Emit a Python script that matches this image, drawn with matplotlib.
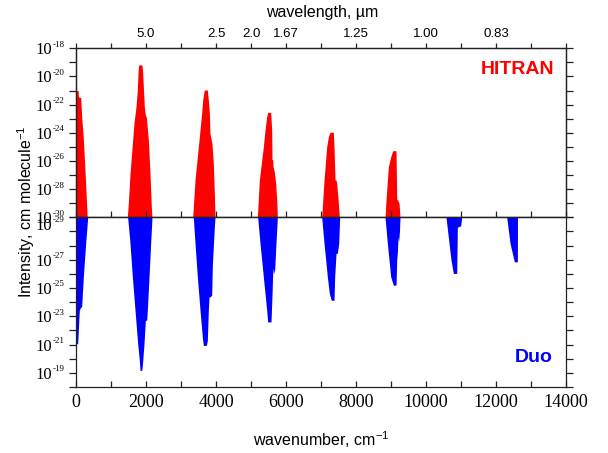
import matplotlib
matplotlib.use("Agg")
import matplotlib.pyplot as plt
import numpy as np

plt.rcParams['font.family'] = ['Liberation Sans', 'DejaVu Sans']
plt.rcParams['mathtext.fontset'] = 'custom'
plt.rcParams['mathtext.rm'] = 'Liberation Sans'
plt.rcParams['mathtext.sf'] = 'Liberation Sans'

# band envelopes: wavenumber (cm-1) and log10 intensity
# HITRAN (upper panel)
hit_wn_0 = [0, 60, 70, 135, 162, 209, 257, 305, 320]
hit_lg_0 = [-21.0, -21.0, -21.45, -21.5, -22.85, -24.4, -26.7, -29.2, -30]
hit_wn_1 = [1467, 1505, 1543, 1619, 1657, 1714, 1752, 1771, 1790, 1886, 1905, 1952, 1971, 1990, 2010, 2067, 2114, 2152, 2171]
hit_lg_1 = [-30, -28.6, -26.9, -24.5, -23.3, -22.15, -20.96, -19.78, -19.18, -19.18, -19.78, -22.15, -22.57, -22.8, -22.9, -24.5, -26.9, -29.25, -30]
hit_wn_2 = [3333, 3400, 3495, 3543, 3590, 3619, 3657, 3667, 3752, 3781, 3810, 3826, 3848, 3886, 3924, 3955, 3971]
hit_lg_2 = [-30, -27.35, -24.99, -23.8, -22.6, -21.67, -21.08, -20.96, -20.96, -21.67, -22.6, -24.0, -24.3, -24.8, -26.2, -28.5, -30]
hit_wn_3 = [5181, 5238, 5352, 5400, 5448, 5476, 5562, 5590, 5600, 5619, 5629, 5667, 5705, 5740, 5752]
hit_lg_3 = [-30, -27.35, -24.99, -23.8, -22.85, -22.55, -22.55, -23.8, -25.9, -25.9, -26.4, -26.8, -27.6, -29.0, -30]
hit_wn_4 = [7019, 7086, 7124, 7162, 7210, 7257, 7352, 7371, 7400, 7429, 7448, 7490, 7524]
hit_lg_4 = [-30, -27.35, -26.17, -24.99, -24.27, -23.96, -23.96, -24.99, -27.35, -27.35, -27.6, -28.8, -30]
hit_wn_5 = [8829, 8857, 8924, 8991, 9048, 9143, 9162, 9181, 9229, 9257]
hit_lg_5 = [-30, -28.77, -26.4, -25.7, -25.27, -25.27, -28.77, -28.7, -29.0, -30]

# Duo (lower panel)
duo_wn_0 = [0, 48, 95, 124, 162, 209, 276, 334]
duo_lg_0 = [-21.06, -21.06, -23.43, -23.6, -23.7, -25.79, -28.16, -30]
duo_wn_1 = [1476, 1543, 1610, 1686, 1762, 1810, 1829, 1876, 1895, 1943, 1981, 2019, 2038, 2086, 2133, 2171]
duo_lg_1 = [-30, -28.16, -25.79, -23.43, -21.06, -19.88, -19.17, -19.17, -19.5, -21.06, -22.72, -22.72, -23.43, -25.79, -28.16, -30]
duo_wn_2 = [3352, 3400, 3467, 3543, 3610, 3638, 3724, 3752, 3781, 3800, 3829, 3876, 3895, 3952, 3971]
duo_lg_2 = [-30, -28.16, -25.79, -23.43, -21.53, -20.94, -20.94, -21.3, -23.43, -24.37, -24.37, -24.5, -26.6, -29.3, -30]
duo_wn_3 = [5190, 5257, 5352, 5448, 5476, 5571, 5600, 5619, 5638, 5657, 5676, 5714, 5752]
duo_lg_3 = [-30, -28.16, -25.79, -23.43, -22.6, -22.6, -24.5, -26.0, -26.4, -26.0, -26.3, -28.2, -30]
duo_wn_4 = [7019, 7086, 7181, 7238, 7295, 7371, 7390, 7429, 7467, 7505, 7533]
duo_lg_4 = [-30, -28.16, -25.79, -24.61, -24.13, -24.13, -25.79, -27.45, -27.45, -28.16, -30]
duo_wn_5 = [8829, 8895, 8991, 9067, 9143, 9162, 9181, 9200, 9219, 9240, 9257]
duo_lg_5 = [-30, -28.16, -25.79, -25.2, -25.2, -26.97, -27.5, -28.6, -28.3, -29.0, -30]
duo_wn_6 = [10571, 10657, 10714, 10781, 10876, 10895, 10990, 11019]
duo_lg_6 = [-30, -28.16, -26.97, -26.03, -26.03, -29.3, -29.4, -30]
duo_wn_7 = [12305, 12400, 12467, 12524, 12610, 12612]
duo_lg_7 = [-30, -28.16, -27.45, -26.85, -26.85, -30]

hitran_bands = [(hit_wn_0, hit_lg_0), (hit_wn_1, hit_lg_1), (hit_wn_2, hit_lg_2),
                (hit_wn_3, hit_lg_3), (hit_wn_4, hit_lg_4), (hit_wn_5, hit_lg_5)]
duo_bands = [(duo_wn_0, duo_lg_0), (duo_wn_1, duo_lg_1), (duo_wn_2, duo_lg_2), (duo_wn_3, duo_lg_3),
             (duo_wn_4, duo_lg_4), (duo_wn_5, duo_lg_5), (duo_wn_6, duo_lg_6), (duo_wn_7, duo_lg_7)]

decades = list(range(-30, -17))
top_labels = [-30, -28, -26, -24, -22, -20, -18]
bottom_labels = [-29, -27, -25, -23, -21, -19]
wl_tick_pos = [2000, 4000, 5000, 6000, 8000, 10000, 12000]
wl_tick_lab = ['5.0', '2.5', '2.0', '1.67', '1.25', '1.00', '0.83']

fig = plt.figure(figsize=(6.08, 4.53), dpi=100)
ax1 = fig.add_axes([0.125, 0.5203, 0.806, 0.3731])
ax2 = fig.add_axes([0.125, 0.1457, 0.806, 0.3746])

for wn, lg in hitran_bands:
    ax1.fill_between(wn, 10.0 ** np.array(lg), 1e-30, color='#ff0000', linewidth=0)
for wn, lg in duo_bands:
    ax2.fill_between(wn, 10.0 ** np.array(lg), 1e-30, color='#0000ff', linewidth=0)

for ax in (ax1, ax2):
    ax.set_yscale('log')
    ax.set_xlim(0, 14000)
    ax.set_yticks([10.0 ** k for k in decades])
    ax.minorticks_off()
    ax.set_xticks(range(0, 14001, 2000))
    ax.set_xticks(range(1000, 14000, 2000), minor=True)
    ax.tick_params(axis='y', which='both', direction='out', length=5, width=0.9,
                   left=True, right=True, labelleft=False, color='#222222')
    ax.tick_params(axis='x', which='both', direction='in', length=4, width=0.9,
                   top=False, bottom=True, color='#222222')
    for s in ax.spines.values():
        s.set_linewidth(0.9)
        s.set_color('#222222')

ax1.set_ylim(1e-30, 1e-18)
ax2.set_ylim(1e-18, 1e-30)


def decade_label(ax, k, lift=0.0):
    # "10" plus a small exponent, in the serif face of the original
    ax.annotate('10', xy=(0, 10.0 ** k), xycoords=('axes fraction', 'data'),
                xytext=(-17.3, -4.3 + lift), textcoords='offset points',
                ha='right', va='baseline', fontsize=12, family='Liberation Serif',
                annotation_clip=False)
    ax.annotate('-%d' % -k, xy=(0, 10.0 ** k), xycoords=('axes fraction', 'data'),
                xytext=(-17.0, 1.1 + lift), textcoords='offset points',
                ha='left', va='baseline', fontsize=6.5, family='Liberation Serif',
                annotation_clip=False)


for k in top_labels:
    decade_label(ax1, k)
for k in bottom_labels:
    decade_label(ax2, k, lift=5.5 if k == -29 else 0.0)

ax1.tick_params(axis='x', labelbottom=False)
ax2.tick_params(axis='x', labelsize=13, pad=5, labelfontfamily='Liberation Serif')

# wavelength axis on top
axt = ax1.twiny()
axt.set_xlim(0, 14000)
axt.set_xticks(wl_tick_pos)
axt.set_xticklabels(wl_tick_lab)
axt.set_xticks([0, 1000, 3000, 7000, 9000, 11000, 13000, 14000], minor=True)
axt.tick_params(axis='x', which='both', direction='out', length=3.5, width=0.9,
                labelsize=9.5, pad=2.5, color='#222222')
for s in axt.spines.values():
    s.set_linewidth(0.9)
    s.set_color('#222222')

fig.text(322 / 608, 1 - 13 / 453, 'wavelength, µm', ha='center', va='center', fontsize=11.5)
fig.text(321 / 608, 1 - 440 / 453, r'wavenumber, cm$^{\mathsf{-1}}$', ha='center', va='center', fontsize=11.5)
fig.text(26 / 608, 1 - 212 / 453, r'Intensity, cm molecule$^{\mathsf{-1}}$', ha='center', va='center',
         rotation=90, fontsize=11.5)

fig.text(554 / 608, 1 - 70 / 453, 'HITRAN', ha='right', va='center', color='#ff0000',
         fontsize=14, fontweight='bold')
fig.text(553 / 608, 1 - 357 / 453, 'Duo', ha='right', va='center', color='#0000ff',
         fontsize=14, fontweight='bold')

fig.savefig('out.png', dpi=100)
